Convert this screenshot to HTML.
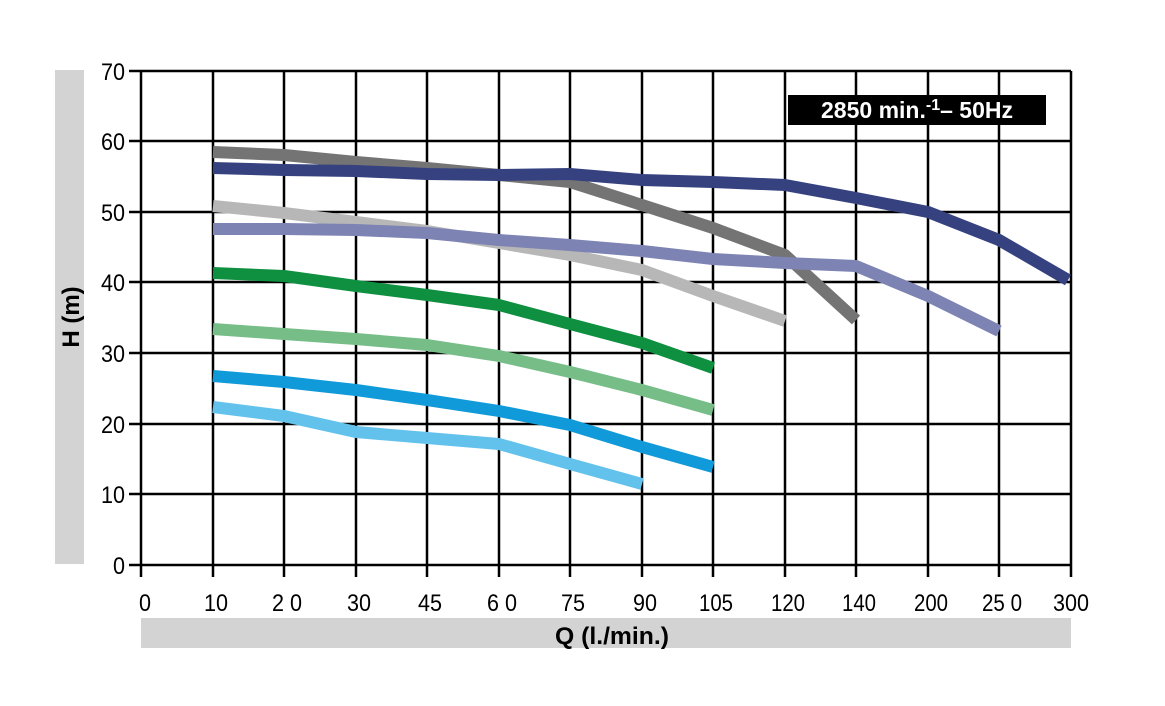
<!DOCTYPE html>
<html><head><meta charset="utf-8"><style>
body{margin:0;background:#fff;}
svg text{font-family:"Liberation Sans",sans-serif;}
</style></head><body>
<svg width="1165" height="701" viewBox="0 0 1165 701" xmlns="http://www.w3.org/2000/svg">
<rect x="55" y="70" width="29" height="494" fill="#d3d3d3"/>
<rect x="141" y="618" width="930" height="30" fill="#d3d3d3"/>
<g stroke="#000" stroke-width="2.5">
<line x1="129" y1="71" x2="1071" y2="71"/>
<line x1="129" y1="141" x2="1071" y2="141"/>
<line x1="129" y1="212" x2="1071" y2="212"/>
<line x1="129" y1="282" x2="1071" y2="282"/>
<line x1="129" y1="353" x2="1071" y2="353"/>
<line x1="129" y1="424" x2="1071" y2="424"/>
<line x1="129" y1="494" x2="1071" y2="494"/>
<line x1="129" y1="565" x2="1071" y2="565"/>
<line x1="141" y1="71" x2="141" y2="577"/>
<line x1="213" y1="71" x2="213" y2="577"/>
<line x1="284" y1="71" x2="284" y2="577"/>
<line x1="356" y1="71" x2="356" y2="577"/>
<line x1="427" y1="71" x2="427" y2="577"/>
<line x1="499" y1="71" x2="499" y2="577"/>
<line x1="570" y1="71" x2="570" y2="577"/>
<line x1="642" y1="71" x2="642" y2="577"/>
<line x1="713" y1="71" x2="713" y2="577"/>
<line x1="785" y1="71" x2="785" y2="577"/>
<line x1="856" y1="71" x2="856" y2="577"/>
<line x1="928" y1="71" x2="928" y2="577"/>
<line x1="999" y1="71" x2="999" y2="577"/>
<line x1="1071" y1="71" x2="1071" y2="577"/>
</g>
<g fill="none" stroke-width="12" stroke-linejoin="round">
<polyline stroke="#747474" points="213,152 284,155 356,162 427,168 499,175 570,182 642,205 713,228 785,255 856,320"/>
<polyline stroke="#36427f" points="213,168 284,170 356,171 427,174 499,175 570,174 642,180 713,182 785,185 856,198 928,212 999,240 1068,280"/>
<polyline stroke="#b7b7b7" points="213,206 284,213 356,222 427,231 499,243 570,255 642,270 713,296 785,321"/>
<polyline stroke="#7d83b3" points="213,229 284,229 356,230 427,233 499,240 570,245 642,251 713,259 785,263 856,266 928,296 999,331"/>
<polyline stroke="#0e9040" points="213,273 284,276 356,286 427,295 499,305 570,324 642,343 713,368"/>
<polyline stroke="#76bd88" points="213,329 284,334 356,339 427,345 499,356 570,372 642,390 713,410"/>
<polyline stroke="#109ad9" points="213,376 284,382 356,390 427,400 499,411 570,425 642,447 713,467"/>
<polyline stroke="#62c2ec" points="213,407 284,416 356,432 427,438 499,444 570,464 642,484"/>
</g>
<rect x="788" y="95" width="258" height="30" fill="#000"/>
<text x="917" y="118" fill="#fff" font-size="23" font-weight="bold" text-anchor="middle">2850 min.<tspan font-size="16" dy="-8">-1</tspan><tspan dy="8">– 50Hz</tspan></text>
<g font-size="24" text-anchor="end" fill="#000">
<text x="125" y="80" textLength="24" lengthAdjust="spacingAndGlyphs">70</text>
<text x="125" y="150" textLength="24" lengthAdjust="spacingAndGlyphs">60</text>
<text x="125" y="221" textLength="24" lengthAdjust="spacingAndGlyphs">50</text>
<text x="125" y="291" textLength="24" lengthAdjust="spacingAndGlyphs">40</text>
<text x="125" y="362" textLength="24" lengthAdjust="spacingAndGlyphs">30</text>
<text x="125" y="433" textLength="24" lengthAdjust="spacingAndGlyphs">20</text>
<text x="125" y="503" textLength="24" lengthAdjust="spacingAndGlyphs">10</text>
<text x="125" y="574" textLength="12" lengthAdjust="spacingAndGlyphs">0</text>
</g>
<g font-size="24" text-anchor="middle" fill="#000">
<text x="145" y="611" textLength="12" lengthAdjust="spacingAndGlyphs">0</text>
<text x="216" y="611" textLength="24" lengthAdjust="spacingAndGlyphs">10</text>
<text x="287" y="611" textLength="30" lengthAdjust="spacingAndGlyphs">2 0</text>
<text x="359" y="611" textLength="24" lengthAdjust="spacingAndGlyphs">30</text>
<text x="430" y="611" textLength="24" lengthAdjust="spacingAndGlyphs">45</text>
<text x="502" y="611" textLength="30" lengthAdjust="spacingAndGlyphs">6 0</text>
<text x="573" y="611" textLength="24" lengthAdjust="spacingAndGlyphs">75</text>
<text x="645" y="611" textLength="24" lengthAdjust="spacingAndGlyphs">90</text>
<text x="716" y="611" textLength="34" lengthAdjust="spacingAndGlyphs">105</text>
<text x="788" y="611" textLength="34" lengthAdjust="spacingAndGlyphs">120</text>
<text x="859" y="611" textLength="34" lengthAdjust="spacingAndGlyphs">140</text>
<text x="931" y="611" textLength="34" lengthAdjust="spacingAndGlyphs">200</text>
<text x="1002" y="611" textLength="40" lengthAdjust="spacingAndGlyphs">25 0</text>
<text x="1071" y="611" textLength="36" lengthAdjust="spacingAndGlyphs">300</text>
</g>
<text x="612" y="644" font-size="24" font-weight="bold" text-anchor="middle" textLength="114" lengthAdjust="spacingAndGlyphs">Q (l./min.)</text>
<text transform="translate(79,317) rotate(-90)" font-size="24" font-weight="bold" text-anchor="middle">H (m)</text>
</svg>
</body></html>
